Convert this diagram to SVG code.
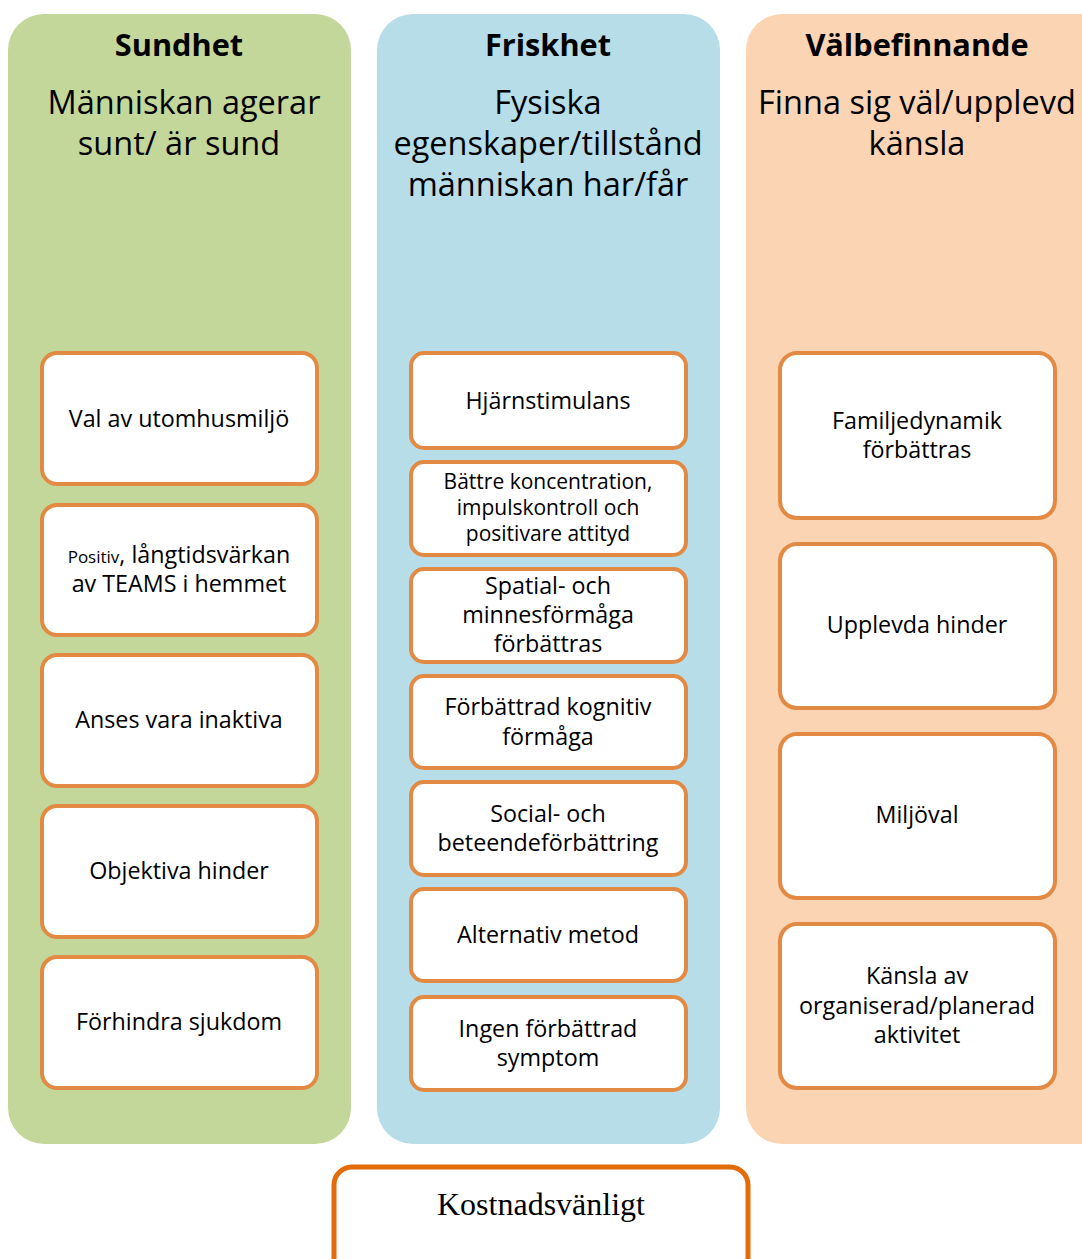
<svg xmlns="http://www.w3.org/2000/svg" width="1082" height="1259" viewBox="0 0 1082 1259">
<style>
.col{stroke:none}
.box{fill:#ffffff;stroke:#e28a43;stroke-width:4}
.t{font-family:"Open Sans","Liberation Sans",sans-serif;font-size:23.3px;fill:#000;text-anchor:middle}
.s{font-size:21px}
.p{font-size:17px}
.h{font-family:"Open Sans","Liberation Sans",sans-serif;font-size:30.7px;font-weight:bold;fill:#000;text-anchor:middle}
.sub{font-family:"Open Sans","Liberation Sans",sans-serif;font-size:32.5px;fill:#000;text-anchor:middle}
</style>
<rect width="1082" height="1259" fill="#ffffff"/>
<g id="col-sundhet">
<rect class="col" x="8" y="14" width="343" height="1130" rx="36" fill="#c4d79b"/>
<text class="h" x="179" y="45" dy="0.35em">Sundhet</text>
<text class="sub" x="184" y="103" dy="0.35em">Människan agerar</text>
<text class="sub" x="179" y="144" dy="0.35em">sunt/ är sund</text>
</g>
<g id="col-friskhet">
<rect class="col" x="377" y="14" width="343" height="1130" rx="36" fill="#b7dde8"/>
<text class="h" x="548" y="45" dy="0.35em">Friskhet</text>
<text class="sub" x="548" y="103" dy="0.35em">Fysiska</text>
<text class="sub" x="548" y="144" dy="0.35em">egenskaper/tillstånd</text>
<text class="sub" x="548" y="185" dy="0.35em">människan har/får</text>
</g>
<g id="col-valbefinnande">
<rect class="col" x="746" y="14" width="380" height="1130" rx="36" fill="#fbd4b4"/>
<text class="h" x="917" y="45" dy="0.35em">Välbefinnande</text>
<text class="sub" x="917" y="103" dy="0.35em">Finna sig väl/upplevd</text>
<text class="sub" x="917" y="144" dy="0.35em">känsla</text>
</g>
<g id="s1"><rect class="box" x="42" y="353" width="275" height="131" rx="15"/><text class="t" x="179" y="419" dy="0.35em">Val av utomhusmiljö</text></g>
<g id="s2"><rect class="box" x="42" y="505" width="275" height="130" rx="15"/><text class="t" x="179" y="555" dy="0.35em"><tspan class="p">Positiv</tspan>, långtidsvärkan</text><text class="t" x="179" y="584" dy="0.35em">av TEAMS i hemmet</text></g>
<g id="s3"><rect class="box" x="42" y="655" width="275" height="131" rx="15"/><text class="t" x="179" y="720" dy="0.35em">Anses vara inaktiva</text></g>
<g id="s4"><rect class="box" x="42" y="806" width="275" height="131" rx="15"/><text class="t" x="179" y="871" dy="0.35em">Objektiva hinder</text></g>
<g id="s5"><rect class="box" x="42" y="957" width="275" height="131" rx="15"/><text class="t" x="179" y="1022" dy="0.35em">Förhindra sjukdom</text></g>
<g id="f1"><rect class="box" x="411" y="353" width="275" height="95" rx="13"/><text class="t" x="548" y="401" dy="0.35em">Hjärnstimulans</text></g>
<g id="f2"><rect class="box" x="411" y="462" width="275" height="93" rx="13"/><text class="t s" x="548" y="482" dy="0.35em">Bättre koncentration,</text><text class="t s" x="548" y="508" dy="0.35em">impulskontroll och</text><text class="t s" x="548" y="534" dy="0.35em">positivare attityd</text></g>
<g id="f3"><rect class="box" x="411" y="569" width="275" height="93" rx="13"/><text class="t" x="548" y="586" dy="0.35em">Spatial- och</text><text class="t" x="548" y="615" dy="0.35em">minnesförmåga</text><text class="t" x="548" y="644" dy="0.35em">förbättras</text></g>
<g id="f4"><rect class="box" x="411" y="676" width="275" height="92" rx="13"/><text class="t" x="548" y="707" dy="0.35em">Förbättrad kognitiv</text><text class="t" x="548" y="737" dy="0.35em">förmåga</text></g>
<g id="f5"><rect class="box" x="411" y="782" width="275" height="93" rx="13"/><text class="t" x="548" y="814" dy="0.35em">Social- och</text><text class="t" x="548" y="843" dy="0.35em">beteendeförbättring</text></g>
<g id="f6"><rect class="box" x="411" y="889" width="275" height="92" rx="13"/><text class="t" x="548" y="935" dy="0.35em">Alternativ metod</text></g>
<g id="f7"><rect class="box" x="411" y="997" width="275" height="93" rx="13"/><text class="t" x="548" y="1029" dy="0.35em">Ingen förbättrad</text><text class="t" x="548" y="1058" dy="0.35em">symptom</text></g>
<g id="v1"><rect class="box" x="780" y="353" width="275" height="165" rx="17"/><text class="t" x="917" y="421" dy="0.35em">Familjedynamik</text><text class="t" x="917" y="450" dy="0.35em">förbättras</text></g>
<g id="v2"><rect class="box" x="780" y="544" width="275" height="164" rx="17"/><text class="t" x="917" y="625" dy="0.35em">Upplevda hinder</text></g>
<g id="v3"><rect class="box" x="780" y="734" width="275" height="164" rx="17"/><text class="t" x="917" y="815" dy="0.35em">Miljöval</text></g>
<g id="v4"><rect class="box" x="780" y="924" width="275" height="164" rx="17"/><text class="t" x="917" y="976" dy="0.35em">Känsla av</text><text class="t" x="917" y="1006" dy="0.35em">organiserad/planerad</text><text class="t" x="917" y="1035" dy="0.35em">aktivitet</text></g>
<g id="kostnad"><rect x="334" y="1167" width="414" height="110" rx="18" fill="#ffffff" stroke="#e36c0a" stroke-width="5"/><text x="541" y="1204" dy="0.35em" text-anchor="middle" font-family="Liberation Serif,serif" font-size="32px" fill="#000">Kostnadsvänligt</text></g>
<g id="connectors"></g>
</svg>
